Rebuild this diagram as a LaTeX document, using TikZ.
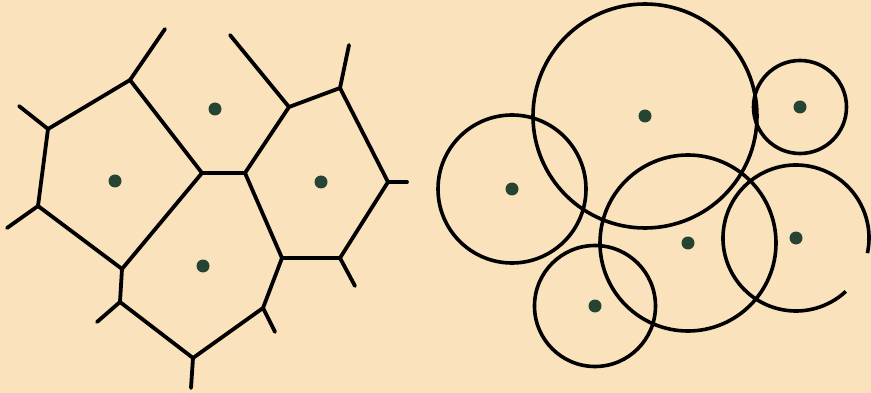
\documentclass[tikz,border=0pt]{standalone}
\definecolor{paper}{RGB}{249,226,188}
\definecolor{seedgreen}{RGB}{38,68,52}
\begin{document}
\begin{tikzpicture}[x=1pt, y=-1pt,
  wall/.style={line width=3.8pt, line join=round, line cap=round},
  ring/.style={line width=3.6pt},
  seed/.style={circle, fill=seedgreen, inner sep=0pt, minimum size=13pt}
]
\fill[paper] (0,0) rectangle (871,393);
\useasboundingbox (0,0) rectangle (871,393);
% cells
\node[seed] (sTop) at (215,109) {};
\node[seed] (sLeft) at (115,181) {};
\node[seed] (sRight) at (321,182) {};
\node[seed] (sBot) at (203,266) {};
\coordinate (vA) at (130,80);
\coordinate (vB) at (48,129);
\coordinate (vC) at (38,206);
\coordinate (vD) at (122,269);
\coordinate (vE) at (120,302);
\coordinate (vF) at (193,358);
\coordinate (vG) at (263,308);
\coordinate (vH) at (282,258);
\coordinate (vI) at (340,258);
\coordinate (vJ) at (388,182);
\coordinate (vK) at (340,88);
\coordinate (vL) at (289,107);
\coordinate (vM) at (202,173);
\coordinate (vN) at (245,173);
\draw[wall] (vA) -- (vB) -- (vC) -- (vD) -- (vE) -- (vF) -- (vG) -- (vH) -- (vI) -- (vJ) -- (vK) -- (vL) -- (vN) -- (vM) -- (vA);
\draw[wall] (vM) -- (vD);
\draw[wall] (vN) -- (vH);
\coordinate (tA) at (165,29);
\coordinate (tB) at (19,106);
\coordinate (tC) at (7,228);
\coordinate (tE) at (97,322);
\coordinate (tF) at (191,388);
\coordinate (tG) at (275,332);
\coordinate (tI) at (355,286);
\coordinate (tJ) at (407,182);
\coordinate (tK) at (349,45);
\coordinate (tL) at (230,35);
\foreach \v in {A,B,C,E,F,G,I,J,K,L}
  \draw[wall] (v\v) -- (t\v);
% circles
\node[seed] (cBig) at (645,116) {};
\node[seed] (cSmall) at (800,107) {};
\node[seed] (cLeft) at (512,189) {};
\node[seed] (cMid) at (688,243) {};
\node[seed] (cRight) at (796,238) {};
\node[seed] (cLow) at (595,306) {};
\draw[ring] (cBig) circle (112pt);
\draw[ring] (cSmall) circle (46.5pt);
\draw[ring] (cLeft) circle (74pt);
\draw[ring] (cMid) circle (88pt);
\draw[ring] (cLow) circle (60.5pt);
\draw[ring] ([shift={(-12:73pt)}]cRight.center) arc[start angle=-12, end angle=313, radius=73pt];
\end{tikzpicture}
\end{document}
